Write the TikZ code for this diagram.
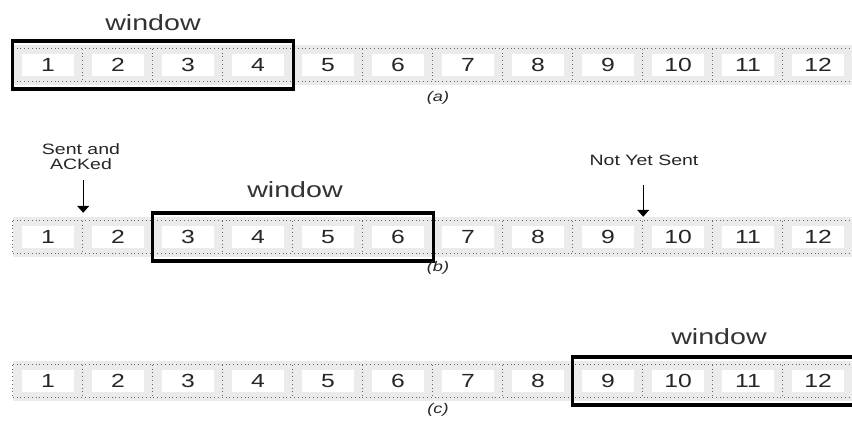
\documentclass[tikz,border=0pt]{standalone}
\usepackage{fontspec}
\newfontfamily\wf[FakeStretch=1.3]{Liberation Sans}
\usetikzlibrary{fit,arrows.meta}
\tikzset{
  cell/.style={minimum width=70pt, minimum height=40pt, inner sep=0pt, fill=gray!16,
    text=black!85, font=\wf\fontsize{19}{19}\selectfont,
    path picture={\fill[white] ([shift={(9pt,9pt)}]path picture bounding box.south west)
      rectangle ([shift={(-9pt,-9pt)}]path picture bounding box.north east);}},
  dotln/.style={draw=black!60, line width=0.8pt, dash pattern=on 0.8pt off 3pt},
  winbox/.style={draw=black, line width=3.5pt, inner xsep=0.5pt, inner ysep=4pt},
  winline/.style={draw=black, line width=3.5pt},
  winlab/.style={font=\wf\fontsize{22}{22}\selectfont, text=black!80, inner sep=1pt},
  smalllab/.style={font=\wf\fontsize{15}{15}\selectfont, text=black!85, inner sep=1pt, align=center},
  caselab/.style={font=\wf\itshape\fontsize{14}{14}\selectfont, text=black!85, inner sep=1pt},
  arr/.style={line width=1.4pt, -{Triangle[width=12pt,length=7pt]}}
}
\begin{document}
\begin{tikzpicture}[x=1pt,y=1pt]
\useasboundingbox[fill=white] (0,0) rectangle (852,-421);
% cells
\foreach \r/\yc in {a/-65, b/-237, c/-381} {
  \foreach \k in {1,...,12} {
    \node[cell] (\r\k) at ({48+70*(\k-1)}, \yc) {\k};
  }
  \draw[dotln] ([yshift=-4pt]\r1.north west) -- ([yshift=-4pt]\r12.north east);
  \draw[dotln] ([yshift=4pt]\r1.south west) -- ([yshift=4pt]\r12.south east);
  \foreach \k in {1,...,12} {
    \draw[dotln] ([yshift=-4pt]\r\k.north west) -- ([yshift=4pt]\r\k.south west);
  }
}
% windows
\node[winbox, fit=(a1)(a4)] (wa) {};
\node[winbox, fit=(b3)(b6)] (wb) {};
\draw[winline] ([shift={(40pt,4pt)}]c12.north east) -- ([shift={(-0.5pt,4pt)}]c9.north west)
  -- ([shift={(-0.5pt,-4pt)}]c9.south west) -- ([shift={(40pt,-4pt)}]c12.south east);
% labels
\node[winlab] (wla) at (153,-23) {window};
\node[winlab] (wlb) at (295,-190) {window};
\node[winlab] (wlc) at (719,-337) {window};
\node[caselab] (ca) at (438,-98) {(a)};
\node[caselab] (cb) at (438,-268) {(b)};
\node[caselab] (cc) at (438,-410) {(c)};
\node[smalllab] (sent) at (81,-157) {Sent and\\ACKed};
\node[smalllab] (nys) at (644,-160) {Not Yet Sent};
% arrows
\draw[arr, shorten <=9pt, shorten >=4pt] (sent.south -| b1.north east) -- (b1.north east);
\draw[arr, shorten <=18pt] (nys.south -| b9.north east) -- (b9.north east);
\end{tikzpicture}
\end{document}
